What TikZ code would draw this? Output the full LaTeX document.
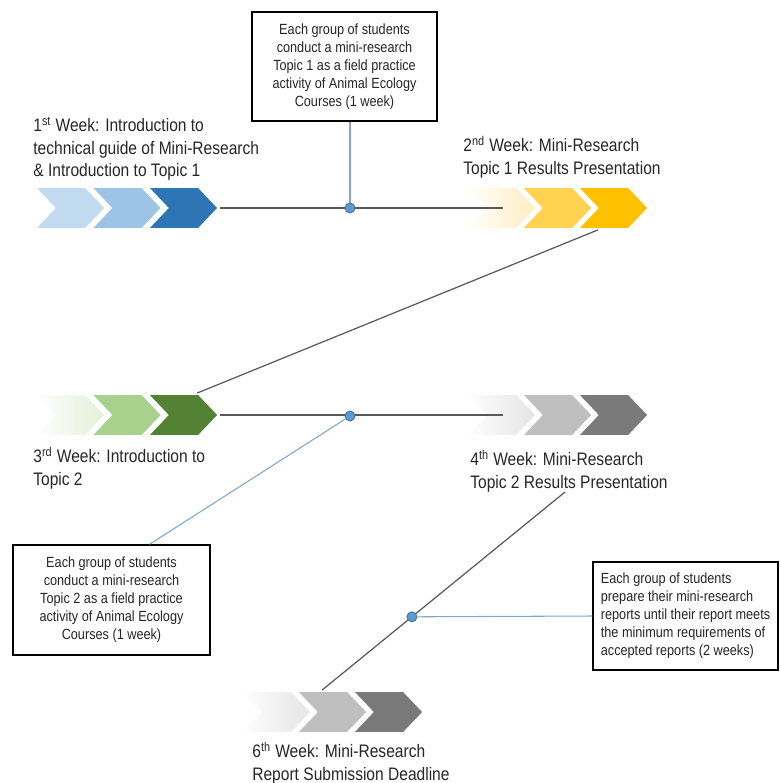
\documentclass[tikz,border=0pt]{standalone}
\usepackage{fontspec}
\setmainfont{Liberation Sans}[FakeStretch=0.86]
\usepackage{tikz}
\usetikzlibrary{shapes.symbols,calc,positioning}

\definecolor{blueA}{HTML}{C2DAF0}
\definecolor{blueB}{HTML}{9DC3E6}
\definecolor{blueC}{HTML}{2E75B6}
\definecolor{yelA}{HTML}{FFEDC0}
\definecolor{yelB}{HTML}{FFD34F}
\definecolor{yelC}{HTML}{FFC000}
\definecolor{grnA}{HTML}{E2F0D9}
\definecolor{grnB}{HTML}{A9D18E}
\definecolor{grnC}{HTML}{548235}
\definecolor{gryA}{HTML}{E4E4E4}
\definecolor{gryB}{HTML}{BFBFBF}
\definecolor{gryC}{HTML}{7A7A7A}
\definecolor{txt}{HTML}{262626}
\definecolor{linegray}{HTML}{595959}
\definecolor{feedblue}{HTML}{7EA6CF}
\definecolor{dotblue}{HTML}{5B9BD5}
\definecolor{dotedge}{HTML}{41719C}

\newcommand{\weekfont}{\fontsize{10.3}{12.8}\selectfont}
\newcommand{\notefont}{\fontsize{8.4}{10.2}\selectfont}

\begin{document}
\begin{tikzpicture}[
    x=0.02cm, y=-0.02cm,
    chev/.style={signal, signal from=west, signal to=east, signal pointer angle=93,
        minimum width=1.42cm, minimum height=0.84cm, inner sep=0pt, draw=white, line width=1pt, fill=#1},
    fadechev/.style={chev=#1, left color=white, right color=#1},
    note/.style={rectangle, draw=black, line width=0.8pt, fill=white, font=\notefont, text=txt, inner sep=0pt},
    week/.style={anchor=north west, inner sep=0pt, align=left, font=\weekfont, text=txt},
    link/.style={draw=linegray, line width=0.7pt},
    feed/.style={draw=feedblue, line width=0.6pt},
    dot/.style={circle, fill=dotblue, draw=dotedge, line width=0.5pt, minimum size=0.2cm, inner sep=0pt}
]
    \useasboundingbox (0,0) rectangle (780,783);

    % week 1 and week 2
    \node[chev=blueA] (b1) at (70,208) {};
    \node[chev=blueB] (b2) at (126.5,208) {};
    \node[chev=blueC] (b3) at (183,208) {};
    \node[fadechev=yelA] (y1) at (501,208) {};
    \node[chev=yelB] (y2) at (557,208) {};
    \node[chev=yelC] (y3) at (613,208) {};

    % week 3 and week 4
    \node[fadechev=grnA] (g1) at (70,415) {};
    \node[chev=grnB] (g2) at (126.5,415) {};
    \node[chev=grnC] (g3) at (183,415) {};
    \node[fadechev=gryA] (r1) at (501,415) {};
    \node[chev=gryB] (r2) at (557,415) {};
    \node[chev=gryC] (r3) at (613,415) {};

    % week 6
    \node[fadechev=gryA] (s1) at (276,712) {};
    \node[chev=gryB] (s2) at (332,712) {};
    \node[chev=gryC] (s3) at (388,712) {};

    \node[week] (w1) at (33,117) {1\textsuperscript{st} Week: Introduction to\\technical guide of Mini-Research\\\& Introduction to Topic 1};
    \node[week] (w2) at (463,136) {2\textsuperscript{nd} Week: Mini-Research\\Topic 1 Results Presentation};
    \node[week] (w3) at (33,447) {3\textsuperscript{rd} Week: Introduction to\\Topic 2};
    \node[week] (w4) at (470,450) {4\textsuperscript{th} Week: Mini-Research\\Topic 2 Results Presentation};
    \node[week] (w6) at (252,742) {6\textsuperscript{th} Week: Mini-Research\\Report Submission Deadline};

    \node[note, align=center, minimum width=3.7cm, minimum height=2.18cm] (n1) at (344.5,66.5)
        {Each group of students\\conduct a mini-research\\Topic 1 as a field practice\\activity of Animal Ecology\\Courses (1 week)};
    \node[note, align=center, minimum width=3.94cm, minimum height=2.2cm] (n2) at (111.5,600)
        {Each group of students\\conduct a mini-research\\Topic 2 as a field practice\\activity of Animal Ecology\\Courses (1 week)};
    \node[note, align=left, minimum width=3.7cm, minimum height=2.16cm] (n3) at (685.5,616)
        {Each group of students\\prepare their mini-research\\reports until their report meets\\the minimum requirements of\\accepted reports (2 weeks)};

    \coordinate (y1in) at ($(y1.west)+(19,0)$);
    \coordinate (r1in) at ($(r1.west)+(19,0)$);
    \coordinate (w4end) at (565,492);

    \draw[link] (b3.east) -- (y1in);
    \draw[link] (g3.east) -- (r1in);
    \draw[link] ($(y3.south)+(-15,0)$) -- ($(g3.north)+(14,0)$);
    \draw[link] (w4end) -- ($(s2.north)+(-10,0)$) coordinate[pos=0.63] (m3);

    \node[dot] (d1) at (350,208) {};
    \node[dot] (d2) at (350,416) {};
    \node[dot] (d3) at (m3) {};

    \draw[feed] (d1) -- (d1 |- n1.south);
    \draw[feed] (d2) -- ($(n2.north)+(38,0)$);
    \draw[feed] (d3) -- (n3.west);
\end{tikzpicture}
\end{document}
